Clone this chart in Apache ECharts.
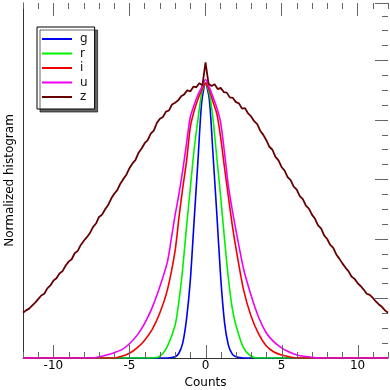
<!DOCTYPE html>
<html>
<head>
<meta charset="utf-8">
<script src="https://cdn.jsdelivr.net/npm/echarts@6/dist/echarts.min.js"></script>
<style>
  html, body { margin: 0; padding: 0; background: #fff; }
  #chart { width: 390px; height: 390px; }
</style>
</head>
<body>
<div id="chart"></div>
<script>
// band names and colours
const bands = ['g', 'r', 'i', 'u', 'z'];
const bandColors = ['#0000f0', '#00f000', '#f00000', '#f000f0', '#660000'];

// g band
const gX = [-12, -2.5, -2, -1.75, -1.5, -1.25, -1, -0.75, -0.5, -0.25, 0, 0.25, 0.5, 0.75, 1, 1.25, 1.5, 1.75, 2, 2.5, 12];
const gY = [0, 0, 0.02, 0.08, 0.25, 0.65, 1.3, 2.3, 3.3, 4.3, 4.62, 4.35, 3.4, 2.4, 1.35, 0.6, 0.22, 0.07, 0.02, 0, 0];

// r band
const rX = [-12, -3.5, -3, -2.5, -2, -1.75, -1.5, -1.25, -1, -0.75, -0.5, -0.25, 0, 0.25, 0.5, 0.75, 1, 1.25, 1.5, 1.75, 2, 2.5, 3, 3.5, 12];
const rY = [0, 0, 0.03, 0.2, 0.55, 0.95, 1.5, 2.2, 2.85, 3.5, 4.0, 4.45, 4.62, 4.45, 4.0, 3.35, 2.7, 2.0, 1.35, 0.85, 0.55, 0.17, 0.03, 0, 0];

// i band
const iX = [-12, -6, -5.5, -5, -4.5, -4, -3.5, -3, -2.5, -2, -1.75, -1.5, -1.25, -1, -0.75, -0.5, -0.25, 0, 0.25, 0.5, 0.75, 1, 1.25, 1.5, 1.75, 2, 2.5, 3, 3.5, 4, 4.5, 5, 5.5, 6, 12];
const iY = [0, 0, 0.03, 0.08, 0.17, 0.3, 0.48, 0.76, 1.15, 1.8, 2.35, 2.85, 3.3, 3.88, 4.15, 4.35, 4.5, 4.62, 4.5, 4.3, 4.1, 3.7, 3.2, 2.72, 2.25, 1.85, 1.15, 0.7, 0.4, 0.2, 0.1, 0.05, 0.02, 0, 0];

// u band
const uX = [-12, -7.5, -7, -6.5, -6, -5.5, -5, -4.5, -4, -3.5, -3, -2.5, -2.25, -2, -1.75, -1.5, -1.25, -1, -0.75, -0.5, -0.25, 0, 0.25, 0.5, 0.75, 1, 1.25, 1.5, 1.75, 2, 2.5, 3, 3.5, 4, 4.5, 5, 5.5, 6, 6.5, 7, 7.5, 12];
const uY = [0, 0, 0.02, 0.05, 0.09, 0.14, 0.24, 0.38, 0.58, 0.85, 1.2, 1.62, 2.0, 2.4, 2.75, 3.15, 3.6, 4.05, 4.25, 4.42, 4.55, 4.68, 4.55, 4.38, 4.2, 3.95, 3.45, 2.9, 2.5, 2.15, 1.5, 1.05, 0.68, 0.42, 0.27, 0.17, 0.1, 0.05, 0.03, 0.01, 0, 0];

// z band, bins of 0.2 from -12 to 12
const zStart = -12;
const zStep = 0.2;
const zY = [
  0.76, 0.80, 0.83, 0.88, 0.93,
  0.99, 1.05, 1.08, 1.17, 1.22,
  1.30, 1.34, 1.42, 1.46, 1.55,
  1.62, 1.66, 1.76, 1.80, 1.90,
  1.97, 2.03, 2.10, 2.20, 2.26,
  2.37, 2.41, 2.50, 2.57, 2.68,
  2.76, 2.82, 2.93, 3.01, 3.08,
  3.19, 3.27, 3.33, 3.45, 3.52,
  3.61, 3.66, 3.77, 3.82, 3.95,
  4.02, 4.05, 4.14, 4.16, 4.26,
  4.29, 4.33, 4.40, 4.43, 4.50,
  4.48, 4.56, 4.55, 4.62, 4.58,
  4.97,
  4.61, 4.57, 4.60, 4.52, 4.54,
  4.47, 4.46, 4.38, 4.37, 4.30,
  4.28, 4.19, 4.20, 4.11, 4.06,
  3.98, 3.93, 3.82, 3.75, 3.66,
  3.55, 3.50, 3.38, 3.32, 3.21,
  3.15, 3.04, 2.99, 2.88, 2.83,
  2.72, 2.67, 2.56, 2.51, 2.41,
  2.34, 2.23, 2.18, 2.06, 2.00,
  1.90, 1.85, 1.74, 1.67, 1.59,
  1.52, 1.46, 1.37, 1.33, 1.26,
  1.21, 1.15, 1.08, 1.06, 1.01,
  0.95, 0.90, 0.86, 0.80, 0.76
];
const zX = zY.map((v, k) => +(zStart + k * zStep).toFixed(2));

// axis ticks
const xMajorTicks = [-10, -5, 0, 5, 10];
const xMinorTicks = [-12, -11, -9, -8, -7, -6, -4, -3, -2, -1, 1, 2, 3, 4, 6, 7, 8, 9, 11, 12];
const xMin = -12, xMax = 12;
const yMin = 0, yMax = 5.966;

const zip = (xs, ys) => xs.map((x, k) => [x, ys[k]]);
const seriesData = [zip(gX, gY), zip(rX, rY), zip(iX, iY), zip(uX, uY), zip(zX, zY)];

const font = 'DejaVu Sans';
const frameColor = '#333';
const tickColor = '#666';
const gridBox = { left: 23, right: 2, top: 3, bottom: 32, outerBoundsMode: 'none', containLabel: false };

// axis with ticks only (no line, no labels)
function tickAxis(grid, pos, min, max, len, opts) {
    opts = opts || {};
    let tick = { show: true, inside: true, length: len, lineStyle: { color: tickColor } };
    if (opts.custom) tick.customValues = opts.custom;
    let ax = {
        type: 'value', gridIndex: grid, position: pos, min: min, max: max,
        axisLine: { show: false, onZero: false },
        axisTick: tick,
        axisLabel: { show: false },
        splitLine: { show: false }
    };
    if (opts.interval) ax.interval = opts.interval;
    return ax;
}

let chart = echarts.init(document.getElementById('chart'));

// grid 0: frame, minor ticks and the data; grid 1 (same box): major ticks and labels
let xAxes = [
    tickAxis(0, 'bottom', xMin, xMax, 6, { interval: 1 }),
    tickAxis(0, 'top', xMin, xMax, 6, { interval: 1 }),
    tickAxis(1, 'bottom', xMin, xMax, 13, { custom: xMajorTicks }),
    tickAxis(1, 'top', xMin, xMax, 13, { custom: xMajorTicks })
];
xAxes[0].axisTick = { show: false };
xAxes[0].axisLine = { show: true, onZero: false, lineStyle: { color: frameColor, width: 1 } };
xAxes[0].name = 'Counts';
xAxes[0].nameLocation = 'middle';
xAxes[0].nameGap = 19;
xAxes[0].nameTextStyle = { fontFamily: font, fontSize: 12, color: '#000' };
xAxes[2].axisTick = { show: false };
xAxes[2].axisLabel = { show: true, customValues: xMajorTicks, fontFamily: font, fontSize: 12, color: '#000', margin: 2 };

let yAxes = [
    tickAxis(0, 'left', yMin, yMax, 6, { interval: 1 }),
    tickAxis(0, 'right', yMin, yMax, 6, { interval: 0.25 }),
    tickAxis(1, 'left', yMin, yMax, 6, { interval: 1 }),
    tickAxis(1, 'right', yMin, yMax, 13, { interval: 1 })
];
yAxes[0].axisTick = { show: false };
yAxes[0].axisLine = { show: true, onZero: false, lineStyle: { color: frameColor, width: 1 } };
yAxes[0].name = 'Normalized histogram';
yAxes[0].nameLocation = 'middle';
yAxes[0].nameGap = 7;
yAxes[0].nameRotate = 90;
yAxes[0].nameTextStyle = { fontFamily: font, fontSize: 12, color: '#000' };
yAxes[2].axisTick = { show: false };

// bottom ticks: [value, length], drawn as 1px wide filled rects through the x scale
const bottomTickData = xMinorTicks.map(v => [v, 6]).concat(xMajorTicks.map(v => [v, 13]));

let series = bands.map((b, k) => ({
    name: b,
    type: 'line',
    xAxisIndex: 0,
    yAxisIndex: 0,
    data: seriesData[k],
    showSymbol: false,
    symbol: 'none',
    smooth: k < 4 ? 0.25 : false,
    color: bandColors[k],
    lineStyle: { color: bandColors[k], width: k < 4 ? 1.6 : 1.8 },
    z: 2 + k
}));
series.push({
    name: 'ticks',
    type: 'custom',
    xAxisIndex: 0,
    yAxisIndex: 0,
    silent: true,
    clip: false,
    z: 10,
    data: bottomTickData,
    renderItem: function (params, api) {
        const p = api.coord([api.value(0), yMin]);
        const len = api.value(1);
        return {
            type: 'rect',
            shape: { x: Math.round(p[0]), y: Math.round(p[1]) - len, width: 1, height: len },
            style: { fill: tickColor }
        };
    }
});

let option = {
    animation: false,
    textStyle: { fontFamily: font },
    grid: [gridBox, Object.assign({}, gridBox)],
    legend: {
        data: bands,
        orient: 'vertical',
        left: 37,
        top: 27,
        icon: 'rect',
        itemWidth: 30,
        itemHeight: 2,
        itemGap: 2.5,
        padding: [6, 7, 6, 5],
        backgroundColor: '#fff',
        borderColor: '#000',
        borderWidth: 1,
        borderRadius: 0,
        shadowColor: 'rgba(0,0,0,0.6)',
        shadowOffsetX: 3,
        shadowOffsetY: 3,
        shadowBlur: 0,
        textStyle: { fontFamily: font, fontSize: 12, color: '#111', padding: [0, 0, 0, 3] }
    },
    xAxis: xAxes,
    yAxis: yAxes,
    series: series
};

chart.setOption(option);
</script>
</body>
</html>
